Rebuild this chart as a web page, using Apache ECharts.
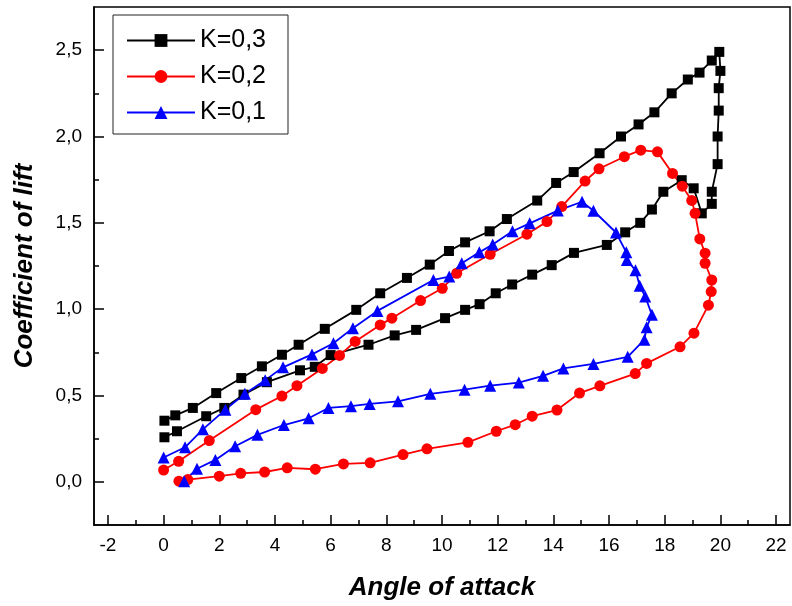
<!DOCTYPE html>
<html>
<head>
<meta charset="utf-8">
<script src="https://cdn.jsdelivr.net/npm/echarts@6/dist/echarts.min.js"></script>
<style>
  html, body { margin: 0; padding: 0; background: #fff; }
  #chart { width: 792px; height: 606px; }
</style>
</head>
<body>
<div id="chart"></div>
<script>
// data: [angle, lift coefficient]
var k03 = [
  [0.03,0.354],[0.42,0.385],[1.05,0.428],[1.89,0.514],[2.79,0.601],[3.53,0.669],[4.25,0.736],[4.85,0.794],
  [5.79,0.886],[6.92,0.996],[7.78,1.092],[8.74,1.181],[9.56,1.258],[10.25,1.337],[10.83,1.387],[11.71,1.451],
  [12.33,1.522],[13.42,1.629],[14.1,1.731],[14.73,1.794],[15.66,1.903],[16.43,2.0],[17.06,2.07],[17.63,2.14],
  [18.25,2.25],[18.83,2.33],[19.25,2.37],[19.69,2.44],[19.96,2.49],
  [20.0,2.38],[19.94,2.28],[19.94,2.15],[19.9,2.0],[19.9,1.84],[19.69,1.68],[19.69,1.61],[19.33,1.555],
  [19.04,1.70],[18.61,1.747],[17.95,1.68],[17.54,1.577],[17.12,1.50],[16.58,1.445],[15.92,1.372],
  [14.74,1.326],[13.94,1.255],[13.24,1.20],[12.52,1.143],[11.93,1.092],[11.35,1.029],[10.83,0.996],
  [10.11,0.948],[9.07,0.880],[8.3,0.848],[7.36,0.794],[6.0,0.734],[5.43,0.666],[4.9,0.646],[3.71,0.577],
  [2.87,0.505],[2.18,0.428],[1.53,0.380],[0.48,0.293],[0.03,0.258]
];
var k02 = [
  [0.0,0.068],[0.54,0.119],[1.64,0.239],[3.31,0.418],[4.25,0.497],[4.79,0.557],[5.7,0.657],[6.32,0.732],
  [6.88,0.813],[7.78,0.909],[8.2,0.948],[9.23,1.05],[10.01,1.121],[10.53,1.208],[11.73,1.318],[13.05,1.434],
  [13.77,1.507],[14.3,1.594],[15.14,1.742],[15.64,1.813],[16.55,1.883],[17.14,1.921],[17.74,1.911],
  [18.28,1.786],[18.63,1.712],[18.97,1.63],[19.09,1.555],[19.26,1.407],[19.45,1.324],[19.45,1.266],
  [19.69,1.169],[19.67,1.102],[19.57,1.023],[19.05,0.861],[18.55,0.782],[17.35,0.686],[16.94,0.627],
  [15.67,0.556],[14.94,0.514],[14.13,0.416],[13.24,0.38],[12.63,0.331],[11.95,0.293],[10.93,0.229],
  [9.46,0.191],[8.6,0.158],[7.42,0.110],[6.46,0.104],[5.45,0.073],[4.44,0.081],[3.63,0.057],[2.77,0.049],
  [2.0,0.033],[0.87,0.013],[0.55,0.004]
];
var k01 = [
  [0.0,0.141],[0.77,0.2],[1.41,0.304],[2.22,0.418],[2.92,0.51],[3.65,0.589],[4.29,0.663],[5.33,0.738],
  [6.1,0.803],[6.8,0.89],[7.68,0.99],[9.69,1.169],[10.26,1.189],[10.71,1.266],[11.34,1.329],[11.82,1.374],
  [12.53,1.451],[13.15,1.497],[14.16,1.571],[15.03,1.622],[15.44,1.57],[16.25,1.444],[16.62,1.329],
  [16.64,1.285],[16.95,1.225],[17.1,1.136],[17.3,1.073],[17.54,0.967],[17.35,0.895],[17.27,0.823],
  [16.67,0.724],[15.44,0.683],[14.36,0.657],[13.63,0.614],[12.76,0.575],[11.73,0.557],[10.81,0.534],
  [9.58,0.51],[8.42,0.466],[7.4,0.451],[6.73,0.438],[5.92,0.428],[5.21,0.368],[4.32,0.329],[3.37,0.272],
  [2.57,0.206],[1.86,0.127],[1.2,0.076],[0.74,0.004]
];
var seriesNames = ['K=0,3', 'K=0,2', 'K=0,1'];
var xTicks = [-2, 0, 2, 4, 6, 8, 10, 12, 14, 16, 18, 20, 22];
var xMinor = [-1, 1, 3, 5, 7, 9, 11, 13, 15, 17, 19, 21];
var yTicks = [0, 0.5, 1, 1.5, 2, 2.5];
var yMinor = [0.25, 0.75, 1.25, 1.75, 2.25];

var font = 'Liberation Sans, Arial, sans-serif';
var chart = echarts.init(document.getElementById('chart'), null, {renderer: 'canvas'});

function minorAxis(pos, min, max, vals) {
  return {
    type: 'value', position: pos, min: min, max: max,
    axisLine: {show: false, onZero: false},
    axisLabel: {show: false},
    splitLine: {show: false},
    axisTick: {show: true, inside: true, length: 5, customValues: vals,
      lineStyle: {color: '#000', width: 1.5}}
  };
}

var option = {
  animation: false,
  backgroundColor: '#fff',
  grid: {
    left: 94, top: 7, right: 2, bottom: 79,
    show: true, borderColor: '#000', borderWidth: 1.5, backgroundColor: 'transparent'
  },
  legend: {
    orient: 'vertical',
    left: 113, top: 15,
    data: seriesNames,
    itemWidth: 68, itemHeight: 16, itemGap: 11,
    padding: [13, 6, 9, 13],
    borderColor: '#222', borderWidth: 1,
    textStyle: {fontFamily: font, fontSize: 25, color: '#000', lineHeight: 24, width: 82}
  },
  xAxis: [{
    type: 'value', min: -2.5, max: 22.5,
    name: 'Angle of attack', nameLocation: 'middle', nameGap: 50,
    nameTextStyle: {fontFamily: font, fontSize: 26, fontWeight: 'bold', fontStyle: 'italic', color: '#000'},
    axisLine: {onZero: false, lineStyle: {color: '#000', width: 1.5}},
    axisTick: {inside: true, length: 10, customValues: xTicks, lineStyle: {color: '#000', width: 1.5}},
    axisLabel: {customValues: xTicks, margin: 11, fontFamily: font, fontSize: 19, color: '#000'},
    splitLine: {show: false}
  }, minorAxis('bottom', -2.5, 22.5, xMinor)],
  yAxis: [{
    type: 'value', min: -0.25, max: 2.75,
    name: 'Coefficient of lift', nameLocation: 'middle', nameGap: 56,
    nameTextStyle: {fontFamily: font, fontSize: 26, fontWeight: 'bold', fontStyle: 'italic', color: '#000'},
    axisLine: {onZero: false, lineStyle: {color: '#000', width: 1.5}},
    axisTick: {inside: true, length: 10, customValues: yTicks, lineStyle: {color: '#000', width: 1.5}},
    axisLabel: {customValues: yTicks, margin: 12, fontFamily: font, fontSize: 19, color: '#000',
      formatter: function (v) { return v.toFixed(1).replace('.', ','); }},
    splitLine: {show: false}
  }, minorAxis('left', -0.25, 2.75, yMinor)],
  series: [
    {name: seriesNames[0], type: 'line', data: k03, symbol: 'rect', symbolSize: 10,
     color: '#000', lineStyle: {color: '#000', width: 1.8}, itemStyle: {color: '#000'}},
    {name: seriesNames[1], type: 'line', data: k02, symbol: 'circle', symbolSize: 11,
     color: '#ff0000', lineStyle: {color: '#ff0000', width: 1.8}, itemStyle: {color: '#ff0000'}},
    {name: seriesNames[2], type: 'line', data: k01, symbol: 'triangle', symbolSize: 12,
     color: '#0000ff', lineStyle: {color: '#0000ff', width: 1.8}, itemStyle: {color: '#0000ff'}}
  ]
};
chart.setOption(option);
</script>
</body>
</html>
